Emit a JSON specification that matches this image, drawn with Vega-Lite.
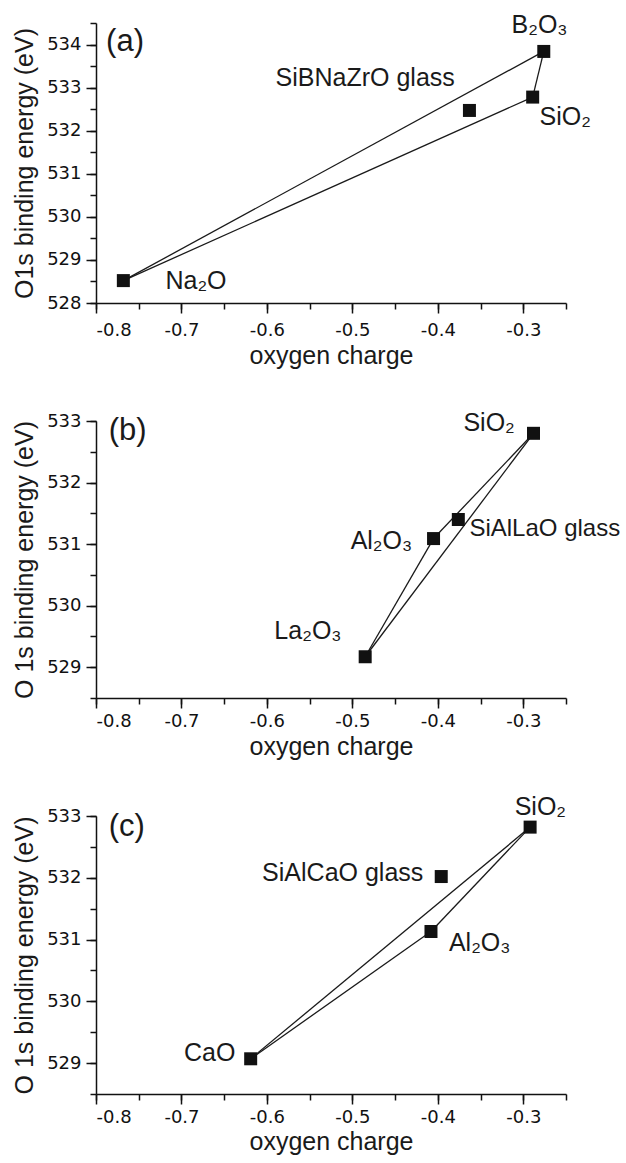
{
  "$schema": "https://vega.github.io/schema/vega-lite/v6.json",
  "padding": {"left": 12, "top": 13, "right": 2, "bottom": 2},
  "spacing": 118,
  "bounds": "flush",
  "config": {
    "view": {"stroke": null},
    "axis": {"domainColor": "#111", "domainWidth": 1.5, "tickColor": "#111", "tickWidth": 1.5, "grid": false,
      "labelFont": "DejaVu Sans", "labelFontSize": 18, "labelColor": "#111",
      "titleFont": "Liberation Sans", "titleFontSize": 25, "titleFontWeight": "normal", "titleColor": "#1a1a1a"},
    "text": {"font": "Liberation Sans", "fontSize": 25, "color": "#1a1a1a"}
  },
  "vconcat": [
    {
      "width": 470, "height": 280,
      "resolve": {"axis": {"x": "independent", "y": "independent"}},
      "layer": [
        {
          "data": {"values": [
            {"x": -0.768, "y": 528.52, "x2": -0.276, "y2": 533.84},
            {"x": -0.768, "y": 528.52, "x2": -0.289, "y2": 532.78},
            {"x": -0.289, "y": 532.78, "x2": -0.276, "y2": 533.84}
          ]},
          "mark": {"type": "rule", "color": "#1a1a1a", "strokeWidth": 1.3},
          "encoding": {
            "x": {"field": "x", "type": "quantitative", "scale": {"domain": [-0.8, -0.25], "nice": false, "zero": false},
              "axis": {"orient": "bottom", "values": [-0.8, -0.75, -0.7, -0.65, -0.6, -0.55, -0.5, -0.45, -0.4, -0.35, -0.3, -0.25], "labels": false, "domain": false, "tickSize": 6, "title": null}},
            "y": {"field": "y", "type": "quantitative", "scale": {"domain": [528, 534.5], "nice": false, "zero": false},
              "axis": {"orient": "left", "values": [528, 528.5, 529, 529.5, 530, 530.5, 531, 531.5, 532, 532.5, 533, 533.5, 534, 534.5], "labels": false, "domain": false, "tickSize": 6, "title": null}},
            "x2": {"field": "x2"},
            "y2": {"field": "y2"}
          }
        },
        {
          "data": {"values": [
            {"name": "Na2O", "x": -0.768, "y": 528.52},
            {"name": "SiBNaZrO glass", "x": -0.363, "y": 532.47},
            {"name": "SiO2", "x": -0.289, "y": 532.78},
            {"name": "B2O3", "x": -0.276, "y": 533.84}
          ]},
          "mark": {"type": "point", "shape": "square", "filled": true, "size": 169, "color": "#111", "opacity": 1},
          "encoding": {
            "x": {"field": "x", "type": "quantitative", "axis": {"orient": "bottom", "values": [-0.8, -0.7, -0.6, -0.5, -0.4, -0.3], "tickSize": 10, "labelPadding": 8, "titlePadding": 4, "title": "oxygen charge", "labelExpr": "replace(format(datum.value, '.1f'), '\u2212', '-')"}},
            "y": {"field": "y", "type": "quantitative", "axis": {"orient": "left", "values": [528, 529, 530, 531, 532, 533, 534], "tickSize": 10, "labelPadding": 5, "titlePadding": 9, "title": "O1s binding energy (eV)", "format": "d"}}
          }
        },
        {
          "data": {"values": [
            {"label": "(a)", "x": -0.766, "y": 534.06, "size": 31},
            {"label": "B₂O₃", "x": -0.281, "y": 534.45, "size": 25},
            {"label": "SiBNaZrO glass", "x": -0.485, "y": 533.23, "size": 25},
            {"label": "SiO₂", "x": -0.251, "y": 532.32, "size": 25},
            {"label": "Na₂O", "x": -0.683, "y": 528.52, "size": 25}
          ]},
          "mark": {"type": "text", "align": "center", "baseline": "middle", "clip": false},
          "encoding": {
            "x": {"field": "x", "type": "quantitative", "axis": null},
            "y": {"field": "y", "type": "quantitative", "axis": null},
            "text": {"field": "label"},
            "size": {"field": "size", "type": "quantitative", "scale": null}
          }
        }
      ]
    },
    {
      "width": 470, "height": 277,
      "resolve": {"axis": {"x": "independent", "y": "independent"}},
      "layer": [
        {
          "data": {"values": [
            {"x": -0.485, "y": 529.17, "x2": -0.405, "y2": 531.09},
            {"x": -0.405, "y": 531.09, "x2": -0.288, "y2": 532.80},
            {"x": -0.485, "y": 529.17, "x2": -0.288, "y2": 532.80}
          ]},
          "mark": {"type": "rule", "color": "#1a1a1a", "strokeWidth": 1.3},
          "encoding": {
            "x": {"field": "x", "type": "quantitative", "scale": {"domain": [-0.8, -0.25], "nice": false, "zero": false},
              "axis": {"orient": "bottom", "values": [-0.8, -0.75, -0.7, -0.65, -0.6, -0.55, -0.5, -0.45, -0.4, -0.35, -0.3, -0.25], "labels": false, "domain": false, "tickSize": 6, "title": null}},
            "y": {"field": "y", "type": "quantitative", "scale": {"domain": [528.5, 533], "nice": false, "zero": false},
              "axis": {"orient": "left", "values": [528.5, 529, 529.5, 530, 530.5, 531, 531.5, 532, 532.5, 533], "labels": false, "domain": false, "tickSize": 6, "title": null}},
            "x2": {"field": "x2"},
            "y2": {"field": "y2"}
          }
        },
        {
          "data": {"values": [
            {"name": "SiO2", "x": -0.288, "y": 532.80},
            {"name": "SiAlLaO glass", "x": -0.376, "y": 531.40},
            {"name": "Al2O3", "x": -0.405, "y": 531.09},
            {"name": "La2O3", "x": -0.485, "y": 529.17}
          ]},
          "mark": {"type": "point", "shape": "square", "filled": true, "size": 169, "color": "#111", "opacity": 1},
          "encoding": {
            "x": {"field": "x", "type": "quantitative", "axis": {"orient": "bottom", "values": [-0.8, -0.7, -0.6, -0.5, -0.4, -0.3], "tickSize": 10, "labelPadding": 4, "titlePadding": 4, "title": "oxygen charge", "labelExpr": "replace(format(datum.value, '.1f'), '\u2212', '-')"}},
            "y": {"field": "y", "type": "quantitative", "axis": {"orient": "left", "values": [529, 530, 531, 532, 533], "tickSize": 10, "labelPadding": 5, "titlePadding": 9, "title": "O 1s binding energy (eV)", "format": "d"}}
          }
        },
        {
          "data": {"values": [
            {"label": "(b)", "x": -0.763, "y": 532.83, "size": 31},
            {"label": "SiO₂", "x": -0.340, "y": 532.96, "size": 25},
            {"label": "Al₂O₃", "x": -0.466, "y": 531.05, "size": 25},
            {"label": "La₂O₃", "x": -0.552, "y": 529.59, "size": 25}
          ]},
          "mark": {"type": "text", "align": "center", "baseline": "middle", "clip": false},
          "encoding": {
            "x": {"field": "x", "type": "quantitative", "axis": null},
            "y": {"field": "y", "type": "quantitative", "axis": null},
            "text": {"field": "label"},
            "size": {"field": "size", "type": "quantitative", "scale": null}
          }
        },
        {
          "data": {"values": [
            {"label": "SiAlLaO glass", "x": -0.363, "y": 531.24}
          ]},
          "mark": {"type": "text", "align": "left", "baseline": "middle", "clip": false, "fontSize": 24},
          "encoding": {
            "x": {"field": "x", "type": "quantitative", "axis": null},
            "y": {"field": "y", "type": "quantitative", "axis": null},
            "text": {"field": "label"}
          }
        }
      ]
    },
    {
      "width": 470, "height": 278,
      "resolve": {"axis": {"x": "independent", "y": "independent"}},
      "layer": [
        {
          "data": {"values": [
            {"x": -0.619, "y": 529.07, "x2": -0.292, "y2": 532.82},
            {"x": -0.619, "y": 529.07, "x2": -0.408, "y2": 531.13},
            {"x": -0.408, "y": 531.13, "x2": -0.292, "y2": 532.82}
          ]},
          "mark": {"type": "rule", "color": "#1a1a1a", "strokeWidth": 1.3},
          "encoding": {
            "x": {"field": "x", "type": "quantitative", "scale": {"domain": [-0.8, -0.25], "nice": false, "zero": false},
              "axis": {"orient": "bottom", "values": [-0.8, -0.75, -0.7, -0.65, -0.6, -0.55, -0.5, -0.45, -0.4, -0.35, -0.3, -0.25], "labels": false, "domain": false, "tickSize": 6, "title": null}},
            "y": {"field": "y", "type": "quantitative", "scale": {"domain": [528.5, 533], "nice": false, "zero": false},
              "axis": {"orient": "left", "values": [528.5, 529, 529.5, 530, 530.5, 531, 531.5, 532, 532.5, 533], "labels": false, "domain": false, "tickSize": 6, "title": null}},
            "x2": {"field": "x2"},
            "y2": {"field": "y2"}
          }
        },
        {
          "data": {"values": [
            {"name": "SiO2", "x": -0.292, "y": 532.82},
            {"name": "SiAlCaO glass", "x": -0.396, "y": 532.02},
            {"name": "Al2O3", "x": -0.408, "y": 531.13},
            {"name": "CaO", "x": -0.619, "y": 529.07}
          ]},
          "mark": {"type": "point", "shape": "square", "filled": true, "size": 169, "color": "#111", "opacity": 1},
          "encoding": {
            "x": {"field": "x", "type": "quantitative", "axis": {"orient": "bottom", "values": [-0.8, -0.7, -0.6, -0.5, -0.4, -0.3], "tickSize": 10, "labelPadding": 4, "titlePadding": 3, "title": "oxygen charge", "labelExpr": "replace(format(datum.value, '.1f'), '\u2212', '-')"}},
            "y": {"field": "y", "type": "quantitative", "axis": {"orient": "left", "values": [529, 530, 531, 532, 533], "tickSize": 10, "labelPadding": 5, "titlePadding": 9, "title": "O 1s binding energy (eV)", "format": "d"}}
          }
        },
        {
          "data": {"values": [
            {"label": "(c)", "x": -0.764, "y": 532.82, "size": 31},
            {"label": "SiO₂", "x": -0.280, "y": 533.14, "size": 25},
            {"label": "Al₂O₃", "x": -0.351, "y": 530.95, "size": 25},
            {"label": "CaO", "x": -0.667, "y": 529.16, "size": 25}
          ]},
          "mark": {"type": "text", "align": "center", "baseline": "middle", "clip": false},
          "encoding": {
            "x": {"field": "x", "type": "quantitative", "axis": null},
            "y": {"field": "y", "type": "quantitative", "axis": null},
            "text": {"field": "label"},
            "size": {"field": "size", "type": "quantitative", "scale": null}
          }
        },
        {
          "data": {"values": [
            {"label": "SiAlCaO glass", "x": -0.417, "y": 532.07}
          ]},
          "mark": {"type": "text", "align": "right", "baseline": "middle", "clip": false, "fontSize": 25},
          "encoding": {
            "x": {"field": "x", "type": "quantitative", "axis": null},
            "y": {"field": "y", "type": "quantitative", "axis": null},
            "text": {"field": "label"}
          }
        }
      ]
    }
  ]
}
